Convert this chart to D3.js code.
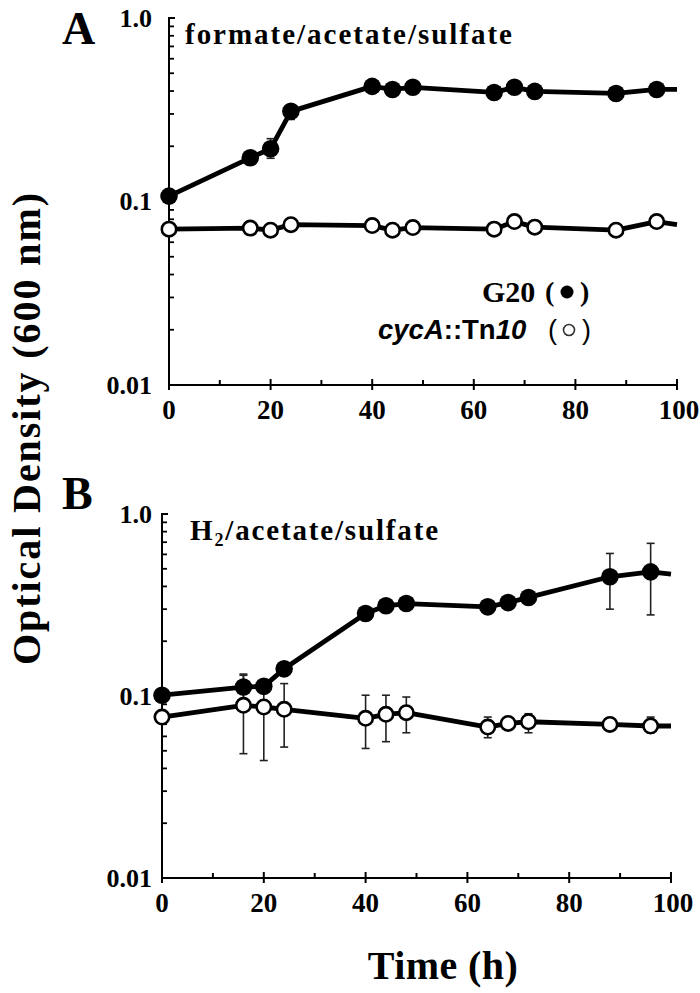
<!DOCTYPE html>
<html>
<head>
<meta charset="utf-8">
<script src="https://cdn.jsdelivr.net/npm/d3@7"></script>
<style>
  html, body { margin: 0; padding: 0; background: #fff; }
  svg { display: block; }
  text { fill: #000; }
</style>
</head>
<body>
<svg id="chart" width="700" height="993"></svg>
<script>
// ---------------- DATA ----------------
const times = [0, 16, 20, 24, 40, 44, 48, 64, 68, 72, 88, 96];
const endTime = 100;
const xTicks = [0, 20, 40, 60, 80, 100];
const xMinorTicks = [10, 30, 50, 70, 90];
const yTickLabels = ["1.0", "0.1", "0.01"];
const yTickValues = [1.0, 0.1, 0.01];

// Panel A: formate/acetate/sulfate
const aG20 = [0.107, 0.173, 0.194, 0.31, 0.424, 0.408, 0.419, 0.393, 0.419, 0.398, 0.388, 0.408];
const aG20End = 0.408;
const aG20Hi = [null, null, 0.22, 0.333, null, null, null, null, null, null, null, null];
const aG20Lo = [null, null, 0.172, 0.28, null, null, null, null, null, null, null, null];
const aCyc = [0.0707, 0.0716, 0.0698, 0.0748, 0.0739, 0.0698, 0.0721, 0.0707, 0.0777, 0.0725, 0.0698, 0.0777];
const aCycEnd = 0.0748;

// Panel B: H2/acetate/sulfate
const bG20 = [0.101, 0.112, 0.113, 0.141, 0.284, 0.313, 0.322, 0.309, 0.326, 0.348, 0.452, 0.481];
const bG20End = 0.468;
const bG20Hi = [null, 0.132, 0.12, null, null, null, null, null, null, null, 0.607, 0.690];
const bG20Lo = [null, 0.095, 0.106, null, null, null, null, null, null, null, 0.300, 0.279];
const bCyc = [0.0766, 0.0889, 0.087, 0.0845, 0.0754, 0.0793, 0.081, 0.0675, 0.0707, 0.0722, 0.0698, 0.0684];
const bCycEnd = 0.0684;
const bCycHi = [null, 0.130, 0.12, 0.117, 0.101, 0.101, 0.0987, 0.0766, 0.075, 0.0799, 0.075, 0.0766];
const bCycLo = [null, 0.0482, 0.0442, 0.0524, 0.0515, 0.0561, 0.0628, 0.059, 0.066, 0.0628, 0.0655, 0.0628];

const panelLabels = ["A", "B"];
const panelTitles = ["formate/acetate/sulfate", "H2/acetate/sulfate"];
const legendLabels = ["G20", "cycA::Tn10"];
const yAxisTitle = "Optical Density (600 nm)";
const xAxisTitle = "Time (h)";

// ---------------- DRAW ----------------
const svg = d3.select("#chart");
const serif = "'Liberation Serif', 'Times New Roman', serif";
const sans = "'Liberation Sans', Arial, sans-serif";

function fitWidth(sel, target) {
  const node = sel.node();
  const w = node.getComputedTextLength();
  const n = node.textContent.length;
  if (n > 1) sel.attr("letter-spacing", ((target - w) / (n - 1)).toFixed(2));
}

const panels = [
  { x0: 169, x1: 677, y0: 385, y1: 18, g20: aG20, g20End: aG20End, g20Hi: aG20Hi, g20Lo: aG20Lo,
    cyc: aCyc, cycEnd: aCycEnd, cycHi: null, cycLo: null },
  { x0: 162, x1: 671, y0: 878, y1: 514, g20: bG20, g20End: bG20End, g20Hi: bG20Hi, g20Lo: bG20Lo,
    cyc: bCyc, cycEnd: bCycEnd, cycHi: bCycHi, cycLo: bCycLo }
];

panels.forEach((p, pi) => {
  const x = d3.scaleLinear().domain([0, 100]).range([p.x0, p.x1]);
  const y = d3.scaleLog().domain([0.01, 1]).range([p.y0, p.y1]);
  const g = svg.append("g");

  // y axis line + ticks
  g.append("line").attr("x1", p.x0).attr("x2", p.x0).attr("y1", p.y0).attr("y2", p.y1 - 1)
    .attr("stroke", "#000").attr("stroke-width", 2);
  const minor = [];
  [0.01, 0.1].forEach(d => { for (let k = 2; k <= 9; k++) minor.push(d * k); });
  g.selectAll(".ymin").data(minor).enter().append("line")
    .attr("x1", p.x0).attr("x2", p.x0 + 5)
    .attr("y1", d => y(d)).attr("y2", d => y(d))
    .attr("stroke", "#000").attr("stroke-width", 1.8);
  g.selectAll(".ymaj").data(yTickValues).enter().append("line")
    .attr("x1", p.x0).attr("x2", p.x0 + 6)
    .attr("y1", d => y(d)).attr("y2", d => y(d))
    .attr("stroke", "#000").attr("stroke-width", 2);
  g.selectAll(".ylab").data(yTickValues).enter().append("text")
    .attr("x", 152).attr("y", d => y(d)).attr("dy", "0.34em")
    .attr("text-anchor", "end").attr("font-family", serif).attr("font-weight", "bold")
    .attr("font-size", 26).text((d, i) => yTickLabels[i]);

  // x axis line + ticks
  g.append("line").attr("x1", p.x0).attr("x2", p.x1 + 1).attr("y1", p.y0).attr("y2", p.y0)
    .attr("stroke", "#000").attr("stroke-width", 2);
  g.selectAll(".xmaj").data(xTicks).enter().append("line")
    .attr("x1", d => x(d)).attr("x2", d => x(d)).attr("y1", p.y0 - 6).attr("y2", p.y0 + 5)
    .attr("stroke", "#000").attr("stroke-width", 2);
  g.selectAll(".xmin").data(xMinorTicks).enter().append("line")
    .attr("x1", d => x(d)).attr("x2", d => x(d)).attr("y1", p.y0 - 5).attr("y2", p.y0)
    .attr("stroke", "#000").attr("stroke-width", 2);
  g.selectAll(".xlab").data(xTicks).enter().append("text")
    .attr("x", d => x(d) + (d === 100 ? 2 : 0)).attr("y", p.y0 + 34)
    .attr("text-anchor", "middle").attr("font-family", serif).attr("font-weight", "bold")
    .attr("font-size", 27).text(d => d);

  // panel letter
  g.append("text").attr("x", 62).attr("y", pi === 0 ? 44 : 509)
    .attr("font-family", serif).attr("font-weight", "bold").attr("font-size", 46)
    .text(panelLabels[pi]);

  // title
  const title = g.append("text").attr("x", pi === 0 ? 185 : 190).attr("y", pi === 0 ? 44 : 540)
    .attr("font-family", serif).attr("font-weight", "bold").attr("font-size", 29);
  if (pi === 0) {
    title.text(panelTitles[0]);
    fitWidth(title, 327);
  } else {
    title.append("tspan").text("H");
    title.append("tspan").attr("font-size", 18).attr("dy", 6).text("2");
    title.append("tspan").attr("dy", -6).text("/acetate/sulfate");
    const w = title.node().getComputedTextLength();
    title.attr("letter-spacing", ((248 - w) / 17).toFixed(2));
  }

  const line = d3.line().x(d => x(d[0])).y(d => y(d[1]));

  function drawSeries(vals, endVal, hi, lo) {
    const pts = times.map((t, i) => [t, vals[i]]).concat([[endTime, endVal]]);
    g.append("path").attr("d", line(pts)).attr("fill", "none")
      .attr("stroke", "#000").attr("stroke-width", 4.8)
      .attr("stroke-linejoin", "round").attr("stroke-linecap", "butt");
    if (hi) {
      const eb = times.map((t, i) => ({ t, hi: hi[i], lo: lo[i] })).filter(d => d.hi != null);
      const ge = g.append("g").attr("stroke", "#222").attr("stroke-width", 1.6);
      ge.selectAll(".v").data(eb).enter().append("line")
        .attr("x1", d => x(d.t)).attr("x2", d => x(d.t))
        .attr("y1", d => y(d.hi)).attr("y2", d => y(d.lo));
      ge.selectAll(".h").data(eb).enter().append("line")
        .attr("x1", d => x(d.t) - 4).attr("x2", d => x(d.t) + 4)
        .attr("y1", d => y(d.hi)).attr("y2", d => y(d.hi));
      ge.selectAll(".l").data(eb).enter().append("line")
        .attr("x1", d => x(d.t) - 4).attr("x2", d => x(d.t) + 4)
        .attr("y1", d => y(d.lo)).attr("y2", d => y(d.lo));
    }
    return times.map((t, i) => [t, vals[i]]);
  }

  const cycPts = drawSeries(p.cyc, p.cycEnd, p.cycHi, p.cycLo);
  const g20Pts = drawSeries(p.g20, p.g20End, p.g20Hi, p.g20Lo);

  g.selectAll(".oc").data(cycPts).enter().append("circle")
    .attr("cx", d => x(d[0])).attr("cy", d => y(d[1])).attr("r", 7.2)
    .attr("fill", "#fff").attr("stroke", "#000").attr("stroke-width", 2.6);
  g.selectAll(".fc").data(g20Pts).enter().append("circle")
    .attr("cx", d => x(d[0])).attr("cy", d => y(d[1])).attr("r", 8.8)
    .attr("fill", "#000");

  // legend (panel A only)
  if (pi === 0) {
    g.append("text").attr("x", 482).attr("y", 302)
      .attr("font-family", serif).attr("font-weight", "bold").attr("font-size", 30)
      .text(legendLabels[0]);
    g.append("text").attr("x", 545).attr("y", 301)
      .attr("font-family", serif).attr("font-weight", "bold").attr("font-size", 28).text("(");
    g.append("circle").attr("cx", 567).attr("cy", 292).attr("r", 6.5).attr("fill", "#000");
    g.append("text").attr("x", 580).attr("y", 301)
      .attr("font-family", serif).attr("font-weight", "bold").attr("font-size", 28).text(")");

    const l2 = g.append("text").attr("x", 378).attr("y", 339)
      .attr("font-family", sans).attr("font-weight", "bold").attr("font-size", 27.5);
    l2.append("tspan").attr("font-style", "italic").text("cycA");
    l2.append("tspan").text("::Tn");
    l2.append("tspan").attr("font-style", "italic").text("10");
    g.append("text").attr("x", 548).attr("y", 339)
      .attr("font-family", sans).attr("font-size", 27).text("(");
    g.append("circle").attr("cx", 569).attr("cy", 330).attr("r", 5.5)
      .attr("fill", "#fff").attr("stroke", "#333").attr("stroke-width", 1.6);
    g.append("text").attr("x", 582).attr("y", 339)
      .attr("font-family", sans).attr("font-size", 27).text(")");
  }
});

// axis titles
const yt = svg.append("text")
  .attr("transform", "translate(40,428) rotate(-90)")
  .attr("text-anchor", "middle").attr("font-family", serif).attr("font-weight", "bold")
  .attr("font-size", 40).text(yAxisTitle);
fitWidth(yt, 472);

const xt = svg.append("text")
  .attr("x", 443).attr("y", 979).attr("text-anchor", "middle")
  .attr("font-family", serif).attr("font-weight", "bold").attr("font-size", 40)
  .text(xAxisTitle);
fitWidth(xt, 150);
</script>
</body>
</html>
